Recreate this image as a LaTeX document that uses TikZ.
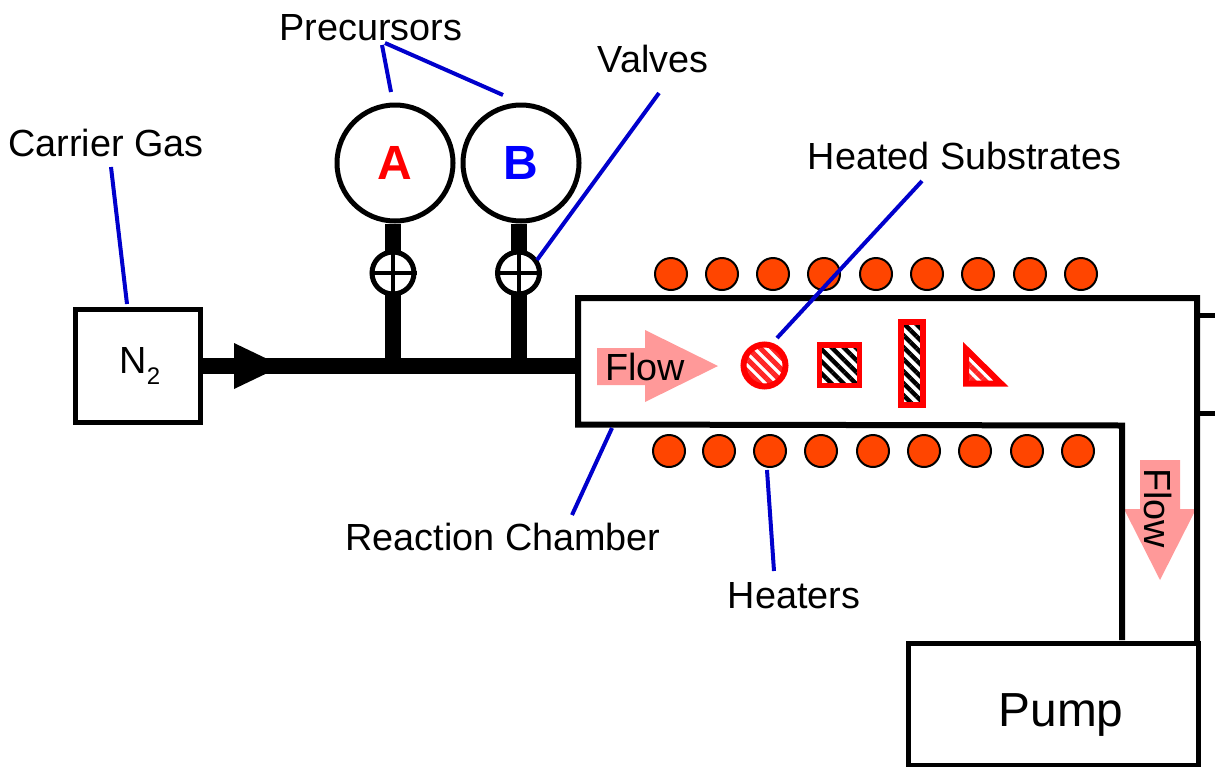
\documentclass[tikz,border=0pt]{standalone}
\usepackage{fontspec}
\setmainfont{Liberation Sans}
\usetikzlibrary{patterns.meta}
\definecolor{leadblue}{HTML}{0000CC}
\definecolor{heatorange}{HTML}{FF4500}
\definecolor{flowpink}{HTML}{FF9999}
\tikzset{
  lbl/.style={inner sep=0pt,font=\fontsize{37.8}{38}\selectfont},
  leader/.style={draw=leadblue,line width=4pt},
  wall/.style={draw=black,line width=6pt,line join=miter},
  boxn/.style={draw=black,line width=5pt,inner sep=0pt,fill=white},
  precursor/.style={circle,draw=black,line width=5pt,minimum size=116pt,inner sep=0pt,font=\fontsize{48}{48}\selectfont\bfseries},
  valvec/.style={circle,draw=black,line width=5pt,minimum size=42pt,inner sep=0pt,fill=white},
  heater/.style={circle,draw=black,line width=2pt,fill=heatorange,minimum size=32pt,inner sep=0pt},
  pipe/.style={draw=black,line width=16pt},
  flowarrow/.style={fill=flowpink,draw=none},
  redframe/.style={draw=red,line width=6pt},
  hatchred/.style={pattern={Lines[angle=-45,distance=8.5pt,line width=5pt]},pattern color=red!85},
  hatchblack/.style={pattern={Lines[angle=-45,distance=8.5pt,line width=4.4pt]},pattern color=black},
}
\begin{document}
\begin{tikzpicture}[x=1pt,y=-1pt]
\useasboundingbox (0,0) rectangle (1215,766);
% flow arrows
\fill[flowarrow] (597,348) -- (645,348) -- (645,330) -- (718,366) -- (645,402) -- (645,385) -- (597,385) -- cycle;
\fill[flowarrow] (1140,460) -- (1180,460) -- (1180,509) -- (1196,509) -- (1160,580) -- (1124,509) -- (1140,509) -- cycle;
% chamber walls
\draw[wall] (1122,640) -- (1122,425.5) -- (578,424.5) -- (578,298) -- (1197,298) -- (1197,642);
\coordinate (stubA) at (1197,315);
\coordinate (stubB) at (1197,413);
\draw[line width=5pt] (stubA) -- (1215,315);
\draw[line width=5pt] (stubB) -- (1215,413);
\coordinate (chamberin) at (576,365.5);
% boxes
\node[boxn,minimum width=125pt,minimum height=113pt] (n2) at (137.5,365.5) {};
\node[lbl] (n2text) at (140,366) {N\raisebox{-0.28em}{\fontsize{24}{24}\selectfont 2}};
\node[boxn,minimum width=290pt,minimum height=122pt] (pump) at (1053,704) {};
\node[lbl,font=\fontsize{47.8}{48}\selectfont] (pumptext) at (1061,715) {Pump};
% precursors
\node[precursor,text=red] (A) at (395,163) {\raisebox{-2pt}{A}};
\node[precursor,text=blue] (B) at (521,163) {\raisebox{-2pt}{B}};
% pipes
\coordinate (j1) at (393,365);
\coordinate (j2) at (519,365);
\draw[pipe] (n2.east |- chamberin) -- (chamberin);
\draw[pipe] (A.south -| j1) -- (j1);
\draw[pipe] (B.south -| j2) -- (j2);
\fill (234,343) -- (282,366) -- (234,389) -- cycle;
% valves
\node[valvec] (v1) at (393,273) {};
\node[valvec] (v2) at (518.5,273) {};
\draw[line width=4pt] (v1.north) -- (v1.south) (v1.west) -- (v1.east);
\draw[line width=4pt] (v2.north) -- (v2.south) (v2.west) -- (v2.east);
% heaters
\foreach \i/\x in {1/671,2/722,3/773,4/824,5/876,6/927,7/978,8/1030,9/1081}
  \node[heater] (ht\i) at (\x,274) {};
\foreach \i/\x in {1/669,2/719,3/770,4/821,5/873,6/924,7/975,8/1027,9/1078}
  \node[heater] (hb\i) at (\x,451) {};
% substrates
\path[hatchred] (764.5,365.5) circle (21);
\draw[redframe] (764.5,365.5) circle (21);
\path[hatchblack] (819.5,345) rectangle (859.5,385.5);
\draw[redframe,line width=5.5pt] (819.5,345) rectangle (859.5,385.5);
\path[hatchblack] (901,322) rectangle (923,405);
\draw[redframe] (901,322) rectangle (923,405);
\path[hatchred] (966,350) -- (998,383) -- (966,383) -- cycle;
\draw[redframe,line join=miter] (966,349) -- (1001,383.5) -- (966,383.5) -- cycle;
% flow text
\node[lbl] (flow1) at (645,367) {Flow};
\node[lbl,rotate=-90] (flow2) at (1158,508) {Flow};
% labels
\node[lbl] (carrier) at (106,143) {Carrier Gas};
\node[lbl] (prec) at (371,28) {Precursors};
\node[lbl] (valves) at (653,59) {Valves};
\node[lbl] (heated) at (964.5,156) {Heated Substrates};
\node[lbl] (react) at (503,537) {Reaction Chamber};
\node[lbl] (heaters) at (794,596) {Heaters};
% leaders
\coordinate (c1) at (127,304);
\coordinate (c1s) at (111,167);
\draw[leader] (c1s) -- (c1);
\coordinate (p0a) at (382,45);
\coordinate (p0b) at (385,43);
\coordinate (pA) at (391,92);
\coordinate (pB) at (503,95);
\draw[leader] (p0a) -- (pA);
\draw[leader] (p0b) -- (pB);
\coordinate (vs) at (659,93);
\coordinate (ve) at (537,260);
\draw[leader] (vs) -- (ve);
\coordinate (hs) at (922,181);
\coordinate (he) at (777,338);
\draw[leader] (hs) -- (he);
\coordinate (rs) at (612,428);
\coordinate (re) at (572,515);
\draw[leader] (rs) -- (re);
\coordinate (ts) at (767,470);
\coordinate (te) at (774,571);
\draw[leader] (ts) -- (te);
\end{tikzpicture}
\end{document}
